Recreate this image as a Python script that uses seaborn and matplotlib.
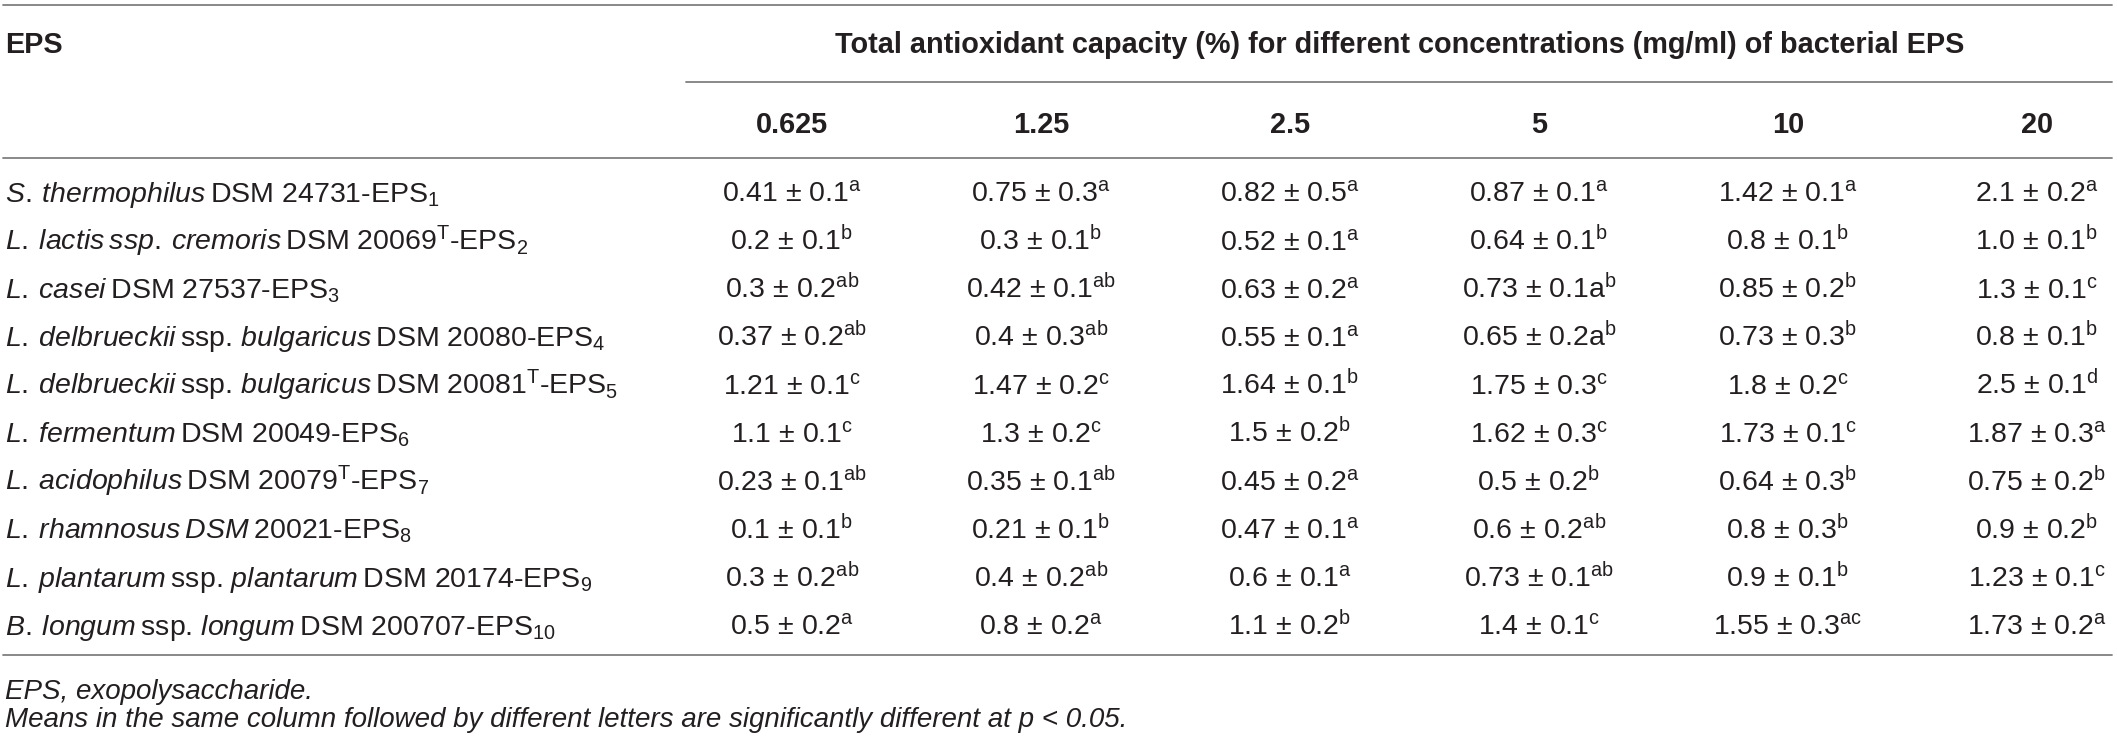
import matplotlib
matplotlib.use("Agg")
import matplotlib.pyplot as plt
import seaborn as sns

sns.set_theme(style="white")
plt.rcParams['font.family'] = ['Liberation Sans', 'DejaVu Sans']
plt.rcParams['mathtext.fontset'] = 'custom'
plt.rcParams['mathtext.rm'] = 'Liberation Sans'
plt.rcParams['mathtext.it'] = 'Liberation Sans:italic'
plt.rcParams['mathtext.bf'] = 'Liberation Sans:bold'

# ---------------- data ----------------
concentrations = ["0.625", "1.25", "2.5", "5", "10", "20"]

# *...* marks italic words, ^T superscript, _n subscript (converted below)
strains = [
    "*S.* *thermophilus* DSM 24731-EPS_1",
    "*L.* *lactis* *ssp.* *cremoris* DSM 20069^T-EPS_2",
    "*L.* *casei* DSM 27537-EPS_3",
    "*L.* *delbrueckii* ssp. *bulgaricus* DSM 20080-EPS_4",
    "*L.* *delbrueckii* ssp. *bulgaricus* DSM 20081^T-EPS_5",
    "*L.* *fermentum* DSM 20049-EPS_6",
    "*L.* *acidophilus* DSM 20079^T-EPS_7",
    "*L.* *rhamnosus* *DSM* 20021-EPS_8",
    "*L.* *plantarum* ssp. *plantarum* DSM 20174-EPS_9",
    "*B.* *longum* ssp. *longum* DSM 200707-EPS_10",
]

means = [
    [0.41, 0.75, 0.82, 0.87, 1.42, 2.1],
    [0.2, 0.3, 0.52, 0.64, 0.8, 1.0],
    [0.3, 0.42, 0.63, 0.73, 0.85, 1.3],
    [0.37, 0.4, 0.55, 0.65, 0.73, 0.8],
    [1.21, 1.47, 1.64, 1.75, 1.8, 2.5],
    [1.1, 1.3, 1.5, 1.62, 1.73, 1.87],
    [0.23, 0.35, 0.45, 0.5, 0.64, 0.75],
    [0.1, 0.21, 0.47, 0.6, 0.8, 0.9],
    [0.3, 0.4, 0.6, 0.73, 0.9, 1.23],
    [0.5, 0.8, 1.1, 1.4, 1.55, 1.73],
]

sds = [
    [0.1, 0.3, 0.5, 0.1, 0.1, 0.2],
    [0.1, 0.1, 0.1, 0.1, 0.1, 0.1],
    [0.2, 0.1, 0.2, 0.1, 0.2, 0.1],
    [0.2, 0.3, 0.1, 0.2, 0.3, 0.1],
    [0.1, 0.2, 0.1, 0.3, 0.2, 0.1],
    [0.1, 0.2, 0.2, 0.3, 0.1, 0.3],
    [0.1, 0.1, 0.2, 0.2, 0.3, 0.2],
    [0.1, 0.1, 0.1, 0.2, 0.3, 0.2],
    [0.2, 0.2, 0.1, 0.1, 0.1, 0.1],
    [0.2, 0.2, 0.2, 0.1, 0.3, 0.2],
]

# "a^b" means a plain "a" followed by a superscript "b"
letters = [
    ["a", "a", "a", "a", "a", "a"],
    ["b", "b", "a", "b", "b", "b"],
    ["ab", "ab", "a", "a^b", "b", "c"],
    ["ab", "ab", "a", "a^b", "b", "b"],
    ["c", "c", "b", "c", "c", "d"],
    ["c", "c", "b", "c", "c", "a"],
    ["ab", "ab", "a", "b", "b", "b"],
    ["b", "b", "a", "ab", "b", "b"],
    ["ab", "ab", "a", "ab", "b", "c"],
    ["a", "a", "b", "c", "ac", "a"],
]

header_first = "EPS"
header_span = "Total antioxidant capacity (%) for different concentrations (mg/ml) of bacterial EPS"
footnotes = [
    "EPS, exopolysaccharide.",
    "Means in the same column followed by different letters are significantly different at p < 0.05.",
]


def to_mathtext(s):
    """Convert the small markup above into a matplotlib mathtext string."""
    out = []
    for w in s.split(" "):
        if w.startswith("*") and w.endswith("*"):
            seg = "$" + r"\mathit{" + w[1:-1] + "}" + "$"
        else:
            seg = w
            if "^T" in seg:
                seg = seg.replace("^T", r"$^{\mathrm{T}}$")
            if "_" in seg:
                head, sub = seg.rsplit("_", 1)
                seg = head + r"$_{" + sub + "}$"
        out.append(seg)
    res = out[0]
    for k in range(1, len(out)):
        a, b = out[k - 1], out[k]
        if a.startswith("$\\mathit") and a.endswith("}$"):
            res = res[:-1] + r"\hspace{0.22}$" + b
        else:
            res += " " + b
    return res


# ---------------- layout ----------------
W, H = 2117, 741
COL0_PX, COL_STEP = 792.0, 249.0      # centre of first value column, spacing
ROW0_PX, ROW_STEP = 202.0, 48.1       # baseline of first data row, spacing
TXT = "#231f20"
LINE = "#7f7f7f"
FS_DATA = 20.5
FS_HEAD = 20.8


def px_x(p):
    return (p - COL0_PX) / COL_STEP


def px_y(p):
    return (p - ROW0_PX) / ROW_STEP


fig = plt.figure(figsize=(W / 100, H / 100), dpi=100)
ax = fig.add_axes([0, 0, 1, 1])
ax.set_xlim(px_x(0), px_x(W))
ax.set_ylim(px_y(H), px_y(0))
ax.axis("off")
sns.despine(ax=ax, left=True, bottom=True)

# rules
ax.plot([px_x(3), px_x(2112)], [px_y(5)] * 2, color=LINE, lw=1.3)
ax.plot([px_x(686), px_x(2112)], [px_y(82)] * 2, color=LINE, lw=1.3)
ax.plot([px_x(3), px_x(2112)], [px_y(158)] * 2, color=LINE, lw=1.3)
ax.plot([px_x(3), px_x(2112)], [px_y(655)] * 2, color=LINE, lw=1.3)

# headers
ax.text(px_x(5), px_y(53), header_first, ha="left", va="baseline",
        fontsize=FS_HEAD, fontweight="bold", color=TXT)
ax.text(px_x(1400), px_y(53), header_span, ha="center", va="baseline",
        fontsize=FS_HEAD, fontweight="bold", color=TXT)
for j, c in enumerate(concentrations):
    ax.text(j, px_y(133), c, ha="center", va="baseline",
            fontsize=FS_HEAD, fontweight="bold", color=TXT)

# body
for i, label in enumerate(strains):
    ax.text(px_x(5), i, to_mathtext(label), ha="left", va="baseline",
            fontsize=FS_DATA, color=TXT)
    for j in range(len(concentrations)):
        base = f"{means[i][j]} \u00b1 {sds[i][j]}"
        let = letters[i][j]
        if "^" in let:
            pre, sup = let.split("^")
            s = base + pre + r"$^{\mathrm{" + sup + r"}}$"
        else:
            s = base + r"$^{\mathrm{" + let + r"}}$"
        ax.text(j, i, s, ha="center", va="baseline",
                fontsize=FS_DATA, color=TXT)

# footnotes
ax.text(px_x(5), px_y(699), footnotes[0], ha="left", va="baseline",
        fontsize=FS_DATA - 0.5, fontstyle="italic", color=TXT)
ax.text(px_x(5), px_y(727), footnotes[1], ha="left", va="baseline",
        fontsize=FS_DATA - 0.5, fontstyle="italic", color=TXT)

fig.savefig("out.png", dpi=100, facecolor="white")
